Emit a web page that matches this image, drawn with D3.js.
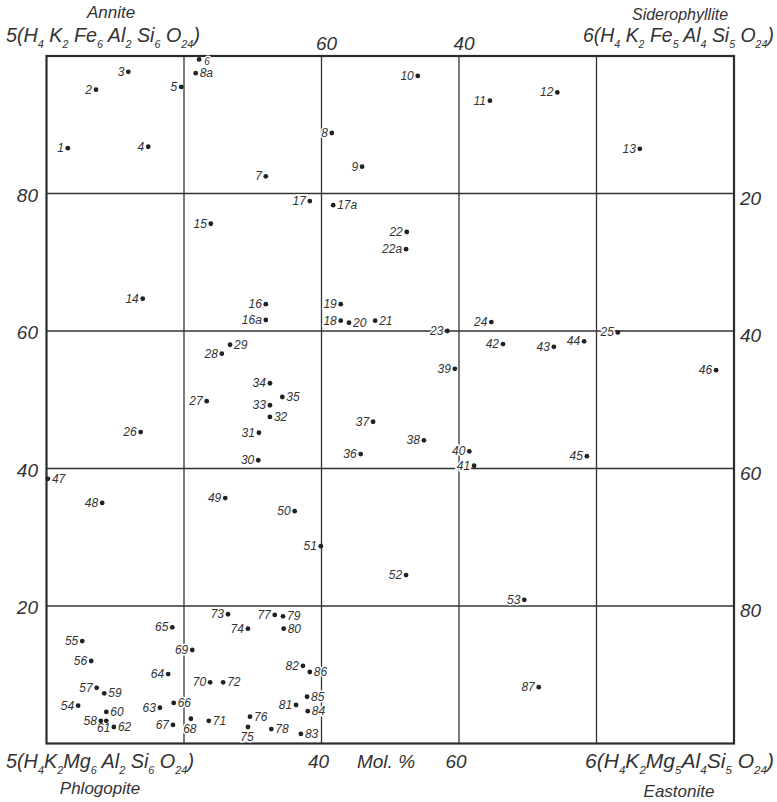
<!DOCTYPE html>
<html>
<head>
<meta charset="utf-8">
<script src="https://cdn.jsdelivr.net/npm/d3@7"></script>
<style>
  body { margin: 0; background: #fff; }
  text { font-family: "Liberation Sans", Arial, sans-serif; font-style: italic; fill: #333; }
</style>
</head>
<body>
<div id="chart"></div>
<script>
(function(){

// analysis numbers and their position in mol. %
const ids = ["1","2","3","4","5","6","8a","7","8","9","10","11","12","13","14","15","16","16a",
  "17","17a","18","19","20","21","22","22a","23","24","25","26","27","28","29","30","31","32",
  "33","34","35","36","37","38","39","40","41","42","43","44","45","46","47","48","49","50",
  "51","52","53","54","55","56","57","58","59","60","61","62","63","64","65","66","67","68",
  "69","70","71","72","73","74","75","76","77","78","79","80","81","82","83","84","85","86","87"];

const molX = [3.1,7.2,11.9,14.8,19.6,22.2,21.7,31.9,41.5,45.9,54.0,64.5,74.3,86.3,14.0,23.9,31.9,31.9,
  38.3,41.7,42.8,42.8,44.0,47.8,52.4,52.3,58.3,64.7,83.1,13.7,23.3,25.5,26.7,30.8,30.9,32.5,
  32.5,32.5,34.3,45.7,47.5,54.9,59.4,61.5,62.2,66.4,73.8,78.2,78.6,97.4,0.2,8.1,26.0,36.1,
  39.9,52.3,69.5,4.6,5.2,6.5,7.3,7.9,8.4,8.7,8.7,9.8,16.5,17.7,18.3,18.5,18.4,21.0,
  21.2,23.8,23.6,25.7,26.4,29.3,29.3,29.6,33.2,32.7,34.4,34.5,36.3,37.3,37.0,38.0,37.9,38.3,71.6];

const molY = [86.6,95.1,97.7,86.8,95.5,99.5,97.5,82.5,88.8,83.9,97.1,93.5,94.7,86.5,64.7,75.6,63.9,61.6,
  78.9,78.3,61.5,63.9,61.2,61.5,74.4,71.9,60.0,61.3,59.8,45.3,49.8,56.7,58.0,41.2,45.2,47.5,
  49.2,52.4,50.4,42.1,46.8,44.1,54.5,42.5,40.4,58.1,57.7,58.5,41.8,54.3,38.5,35.0,35.7,33.8,
  28.7,24.5,20.9,5.5,14.9,12.0,8.1,3.3,7.3,4.6,3.3,2.4,5.2,10.1,16.9,5.9,2.7,3.6,
  13.6,8.9,3.3,8.9,18.8,16.7,2.4,3.9,18.7,2.1,18.5,16.7,5.6,11.3,1.4,4.7,6.8,10.4,8.2];

// where the number is lettered beside its dot (default: left)
const labelSide = {
  "6":"rb","8a":"r","17a":"r","20":"r","21":"r","29":"r","32":"r","35":"r","47":"r",
  "59":"r","60":"r","62":"r","66":"r","71":"r","72":"r","76":"r","78":"r","79":"r",
  "80":"r","83":"r","84":"r","85":"r","86":"r","61":"bl","68":"b","75":"b"
};

const gridValues = [20, 40, 60, 80];
const leftTicks = [80, 60, 40, 20];
const rightTicks = [20, 40, 60, 80];
const topTicks = [60, 40];
const bottomTicks = [40, 60];

const annite = [["5(H","4"],[" K","2"],[" Fe","6"],[" Al","2"],[" Si","6"],[" O","24"],[")",""]];
const sidero = [["6(H","4"],[" K","2"],[" Fe","5"],[" Al","4"],[" Si","5"],[" O","24"],[")",""]];
const phlog = [["5(H","4"],["K","2"],["Mg","6"],[" Al","2"],[" Si","6"],[" O","24"],[")",""]];
const easton = [["6(H","4"],["K","2"],["Mg","5"],["Al","4"],["Si","5"],[" O","24"],[")",""]];

const width = 777, height = 802;
const x0 = 46.5, x1 = 734, y0 = 56, y1 = 743.5;

const svg = d3.select("#chart").append("svg")
  .attr("width", width)
  .attr("height", height);

svg.append("rect").attr("width", width).attr("height", height).attr("fill", "#fff");

const x = d3.scaleLinear().domain([0, 100]).range([x0, x1]);
const y = d3.scaleLinear().domain([0, 100]).range([y1, y0]);
const xTop = d3.scaleLinear().domain([100, 0]).range([x0, x1]);
const yRight = d3.scaleLinear().domain([0, 100]).range([y0, y1]);

// grid
const grid = svg.append("g").attr("stroke", "#333").attr("stroke-width", 1.3);
grid.selectAll(".v").data(gridValues).enter().append("line")
  .attr("x1", d => x(d)).attr("x2", d => x(d))
  .attr("y1", y0).attr("y2", y1);
grid.selectAll(".h").data(gridValues).enter().append("line")
  .attr("y1", d => y(d)).attr("y2", d => y(d))
  .attr("x1", x0).attr("x2", x1);

svg.append("rect")
  .attr("x", x0).attr("y", y0)
  .attr("width", x1 - x0).attr("height", y1 - y0)
  .attr("fill", "none").attr("stroke", "#2b2b2b").attr("stroke-width", 2.2);

// axis numbers
const axisFont = 19;
svg.append("g").selectAll("text").data(leftTicks).enter().append("text")
  .attr("x", 38).attr("y", d => y(d) + 8)
  .attr("text-anchor", "end").attr("font-size", axisFont).text(d => d);
svg.append("g").selectAll("text").data(rightTicks).enter().append("text")
  .attr("x", 740).attr("y", d => yRight(d) + 11)
  .attr("font-size", axisFont).text(d => d);
svg.append("g").selectAll("text").data(topTicks).enter().append("text")
  .attr("x", d => xTop(d) + 5).attr("y", 50)
  .attr("text-anchor", "middle").attr("font-size", axisFont).text(d => d);
svg.append("g").selectAll("text").data(bottomTicks).enter().append("text")
  .attr("x", d => x(d) - 3).attr("y", 768)
  .attr("text-anchor", "middle").attr("font-size", axisFont).text(d => d);
svg.append("text").attr("x", 386).attr("y", 768)
  .attr("text-anchor", "middle").attr("font-size", axisFont).text("Mol. %");

// end member formulas
function formula(parts, px, py, len) {
  const t = svg.append("text").attr("x", px).attr("y", py)
    .attr("textLength", len).attr("lengthAdjust", "spacingAndGlyphs");
  let down = 0;
  parts.forEach(p => {
    t.append("tspan").attr("font-size", 20).attr("dy", -down).text(p[0]);
    down = 0;
    if (p[1]) {
      t.append("tspan").attr("font-size", 11).attr("dy", 6).text(p[1]);
      down = 6;
    }
  });
}
formula(annite, 6, 42, 194);
formula(sidero, 583, 42, 191);
formula(phlog, 6, 768, 188);
formula(easton, 585, 768, 189);

svg.append("text").attr("x", 111).attr("y", 18).attr("text-anchor", "middle")
  .attr("font-size", 17).text("Annite");
svg.append("text").attr("x", 680).attr("y", 20).attr("text-anchor", "middle")
  .attr("font-size", 16).text("Siderophyllite");
svg.append("text").attr("x", 100).attr("y", 794).attr("text-anchor", "middle")
  .attr("font-size", 17).text("Phlogopite");
svg.append("text").attr("x", 679).attr("y", 797).attr("text-anchor", "middle")
  .attr("font-size", 17).text("Eastonite");

// analyses
const pts = ids.map((id, i) => ({ id, mx: molX[i], my: molY[i], side: labelSide[id] || "l" }));

const labelPos = {
  l:  d => [x(d.mx) - 4, y(d.my) + 4, "end"],
  r:  d => [x(d.mx) + 4, y(d.my) + 4, "start"],
  rb: d => [x(d.mx) + 5, y(d.my) + 6, "start"],
  b:  d => [x(d.mx) - 1, y(d.my) + 14, "middle"],
  bl: d => [x(d.mx) + 4, y(d.my) + 11, "end"]
};

svg.append("g").selectAll("text").data(pts).enter().append("text")
  .attr("x", d => labelPos[d.side](d)[0])
  .attr("y", d => labelPos[d.side](d)[1])
  .attr("text-anchor", d => labelPos[d.side](d)[2])
  .attr("font-size", d => d.id === "6" ? 10 : 12)
  .attr("stroke", "#fff").attr("stroke-width", 3).attr("paint-order", "stroke")
  .text(d => d.id);

svg.append("g").selectAll("circle").data(pts).enter().append("circle")
  .attr("cx", d => x(d.mx))
  .attr("cy", d => y(d.my))
  .attr("r", 2.4)
  .attr("fill", "#222");

})();
</script>
</body>
</html>
